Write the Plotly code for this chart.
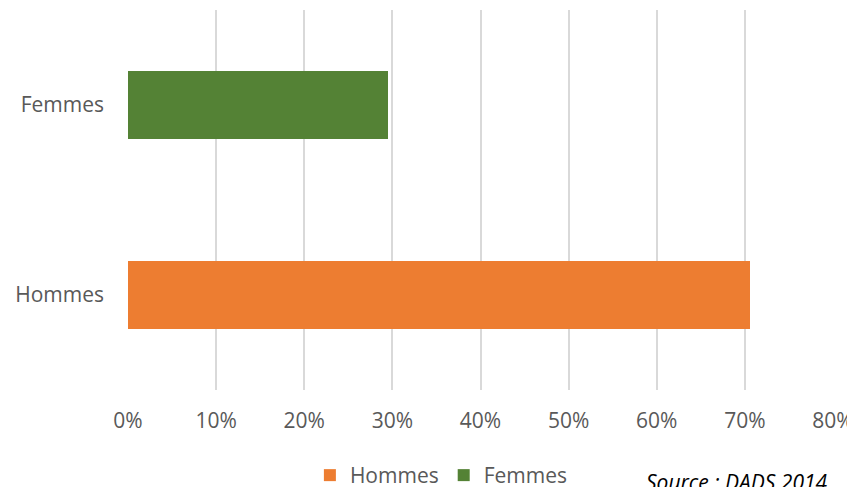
import plotly.graph_objects as go

categories = ["Hommes", "Femmes"]
series_names = ["Hommes", "Femmes"]
values = [0.706, 0.295]
colors = ["#ED7D31", "#548235"]
tick_vals = [0, 0.1, 0.2, 0.3, 0.4, 0.5, 0.6, 0.7, 0.8]
tick_text = ["0%", "10%", "20%", "30%", "40%", "50%", "60%", "70%", "80%"]
source_text = "Source : DADS 2014"

FONT = "Open Sans"
TXT = "#595959"

fig = go.Figure()
for name, cat, val, col in zip(series_names, categories, values, colors):
    fig.add_trace(go.Bar(
        name=name, y=[cat], x=[val], orientation="h",
        marker=dict(color=col, line=dict(width=0)),
        hoverinfo="x+y",
    ))

fig.update_layout(
    width=855, height=487,
    margin=dict(l=120, r=30, t=2, b=105, autoexpand=False),
    paper_bgcolor="white", plot_bgcolor="white",
    barmode="stack", bargap=0.64,
    font=dict(family=FONT, size=21, color=TXT),
    showlegend=True,
    legend=dict(orientation="h", x=0.258, xanchor="left", y=-0.171, yanchor="top",
                font=dict(family=FONT, size=21, color=TXT),
                traceorder="normal", itemwidth=30, itemsizing="constant"),
    xaxis=dict(range=[0, 0.8], tickvals=tick_vals, ticktext=tick_text,
               showgrid=True, gridcolor="#D9D9D9", gridwidth=1.5,
               zeroline=False, showline=False, ticks="", automargin=False,
               ticklabelstandoff=16, fixedrange=True),
    yaxis=dict(categoryorder="array", categoryarray=categories,
               showgrid=False, zeroline=False, showline=False, ticks="",
               automargin=False, ticklabelstandoff=23, fixedrange=True),
    annotations=[dict(text=source_text, xref="paper", yref="paper",
                      x=0.996, xanchor="right", y=-0.2, yanchor="top",
                      showarrow=False,
                      font=dict(family=FONT, size=21, color="#000000", style="italic"))],
)

fig.write_html("out.html")
